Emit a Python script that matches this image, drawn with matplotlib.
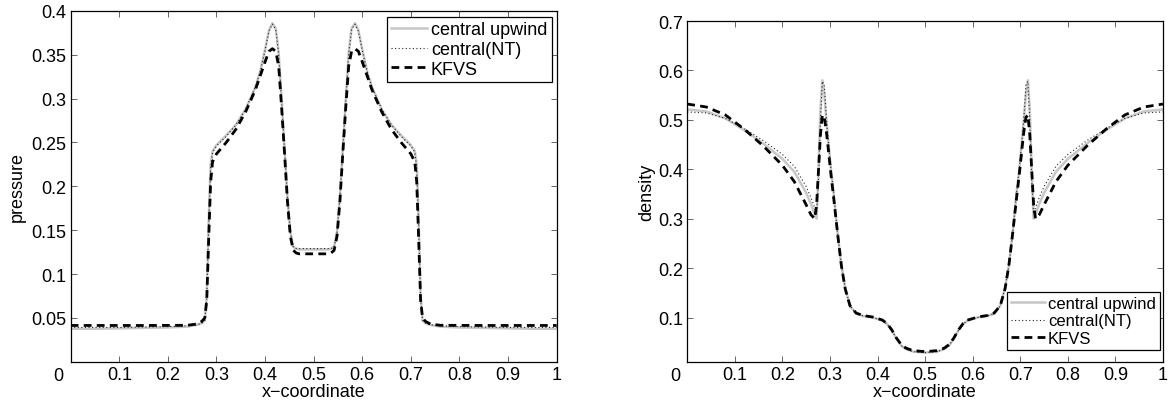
import matplotlib
matplotlib.use("Agg")
import matplotlib.pyplot as plt

plt.rcParams['font.family'] = ['Liberation Sans', 'DejaVu Sans']

# ======================
# Pressure (left panel)
# ======================
x_p = [0, 0.05, 0.1, 0.15, 0.2, 0.24, 0.26, 0.27, 0.276, 0.28, 0.284, 0.288,
       0.292, 0.3, 0.32, 0.34, 0.36, 0.38, 0.39, 0.4, 0.408, 0.415, 0.422,
       0.428, 0.434, 0.44, 0.446, 0.452, 0.458, 0.464, 0.47, 0.5,
       0.53, 0.536, 0.542, 0.548, 0.554, 0.56, 0.566, 0.572, 0.578, 0.585,
       0.592, 0.6, 0.61, 0.62, 0.64, 0.66, 0.68, 0.7, 0.708, 0.712, 0.716,
       0.72, 0.724, 0.73, 0.74, 0.76, 0.8, 0.85, 0.9, 0.95, 1.0]

p_upwind = [0.0375, 0.0375, 0.038, 0.0385, 0.039, 0.040, 0.042, 0.044, 0.047,
            0.075, 0.16, 0.225, 0.240, 0.247, 0.258, 0.270, 0.288, 0.313,
            0.331, 0.356, 0.378, 0.386, 0.380, 0.352, 0.298, 0.243, 0.188,
            0.148, 0.131, 0.129, 0.128, 0.128,
            0.128, 0.129, 0.131, 0.148, 0.188, 0.243, 0.298, 0.352, 0.380,
            0.386, 0.378, 0.356, 0.331, 0.313, 0.288, 0.270, 0.258, 0.247,
            0.240, 0.225, 0.16, 0.075, 0.047, 0.044, 0.042, 0.040, 0.039,
            0.0385, 0.038, 0.0375, 0.0375]

p_nt = [0.039, 0.039, 0.039, 0.0395, 0.040, 0.041, 0.042, 0.044, 0.047,
        0.072, 0.155, 0.222, 0.239, 0.246, 0.257, 0.270, 0.288, 0.313,
        0.331, 0.355, 0.377, 0.385, 0.379, 0.351, 0.297, 0.242, 0.187,
        0.147, 0.131, 0.129, 0.129, 0.129,
        0.129, 0.129, 0.131, 0.147, 0.187, 0.242, 0.297, 0.351, 0.379,
        0.385, 0.377, 0.355, 0.331, 0.313, 0.288, 0.270, 0.257, 0.246,
        0.239, 0.222, 0.155, 0.072, 0.047, 0.044, 0.042, 0.041, 0.040,
        0.0395, 0.039, 0.039, 0.039]

p_kfvs = [0.0413, 0.0413, 0.0413, 0.0413, 0.0414, 0.0415, 0.043, 0.046, 0.05,
          0.07, 0.14, 0.205, 0.228, 0.237, 0.250, 0.265, 0.285, 0.310,
          0.326, 0.342, 0.354, 0.357, 0.354, 0.337, 0.290, 0.238, 0.183,
          0.143, 0.127, 0.124, 0.123, 0.123,
          0.123, 0.124, 0.127, 0.143, 0.183, 0.238, 0.290, 0.337, 0.354,
          0.357, 0.354, 0.342, 0.326, 0.310, 0.285, 0.265, 0.250, 0.237,
          0.228, 0.205, 0.14, 0.07, 0.05, 0.046, 0.043, 0.0415, 0.0414,
          0.0413, 0.0413, 0.0413, 0.0413]

# ======================
# Density (right panel)
# ======================
x_d = [0, 0.04, 0.08, 0.12, 0.16, 0.2, 0.225, 0.25, 0.26, 0.268, 0.272, 0.276,
       0.28, 0.284, 0.288, 0.292, 0.296, 0.302, 0.308, 0.316, 0.324, 0.332,
       0.342, 0.355, 0.37, 0.39, 0.41, 0.42, 0.43, 0.44, 0.45, 0.46, 0.475, 0.5,
       0.525, 0.54, 0.55, 0.56, 0.57, 0.58, 0.59, 0.61, 0.63, 0.645, 0.658,
       0.668, 0.676, 0.684, 0.692, 0.698, 0.704, 0.708, 0.712, 0.716, 0.72,
       0.724, 0.728, 0.732, 0.74, 0.75, 0.775, 0.8, 0.84, 0.88, 0.92, 0.96, 1.0]

d_upwind = [0.521, 0.517, 0.503, 0.479, 0.452, 0.421, 0.395, 0.352, 0.330,
            0.308, 0.300, 0.400, 0.520, 0.580, 0.555, 0.505, 0.462, 0.400,
            0.350, 0.270, 0.205, 0.160, 0.124, 0.108, 0.103, 0.100, 0.094,
            0.087, 0.074, 0.057, 0.043, 0.036, 0.031, 0.029,
            0.031, 0.036, 0.043, 0.057, 0.074, 0.087, 0.094, 0.100, 0.103,
            0.108, 0.124, 0.160, 0.205, 0.270, 0.350, 0.400, 0.462, 0.505,
            0.555, 0.580, 0.520, 0.400, 0.300, 0.308, 0.330, 0.352, 0.395,
            0.421, 0.452, 0.479, 0.503, 0.517, 0.521]

d_nt = [0.516, 0.514, 0.503, 0.482, 0.458, 0.430, 0.406, 0.365, 0.343,
        0.322, 0.310, 0.380, 0.500, 0.578, 0.570, 0.510, 0.462, 0.400,
        0.350, 0.270, 0.205, 0.160, 0.124, 0.108, 0.103, 0.100, 0.094,
        0.087, 0.074, 0.057, 0.043, 0.036, 0.031, 0.029,
        0.031, 0.036, 0.043, 0.057, 0.074, 0.087, 0.094, 0.100, 0.103,
        0.108, 0.124, 0.160, 0.205, 0.270, 0.350, 0.400, 0.462, 0.510,
        0.570, 0.578, 0.500, 0.380, 0.310, 0.322, 0.343, 0.365, 0.406,
        0.430, 0.458, 0.482, 0.503, 0.514, 0.516]

d_kfvs = [0.532, 0.526, 0.510, 0.481, 0.447, 0.408, 0.375, 0.328, 0.308,
          0.300, 0.330, 0.400, 0.470, 0.510, 0.505, 0.480, 0.445, 0.390,
          0.340, 0.270, 0.205, 0.158, 0.124, 0.109, 0.104, 0.101, 0.095,
          0.088, 0.075, 0.058, 0.045, 0.038, 0.033, 0.031,
          0.033, 0.038, 0.045, 0.058, 0.075, 0.088, 0.095, 0.101, 0.104,
          0.109, 0.124, 0.158, 0.205, 0.270, 0.340, 0.390, 0.445, 0.480,
          0.505, 0.510, 0.470, 0.400, 0.330, 0.300, 0.308, 0.328, 0.375,
          0.408, 0.447, 0.481, 0.510, 0.526, 0.532]

labels = ["central upwind", "central(NT)", "KFVS"]
x_ticks = [0, 0.1, 0.2, 0.3, 0.4, 0.5, 0.6, 0.7, 0.8, 0.9, 1]
x_ticklabels = ["", "0.1", "0.2", "0.3", "0.4", "0.5", "0.6", "0.7", "0.8", "0.9", "1"]
p_ticks = [0.05, 0.1, 0.15, 0.2, 0.25, 0.3, 0.35, 0.4]
p_ticklabels = ["0.05", "0.1", "0.15", "0.2", "0.25", "0.3", "0.35", "0.4"]
d_ticks = [0.1, 0.2, 0.3, 0.4, 0.5, 0.6, 0.7]
d_ticklabels = ["0.1", "0.2", "0.3", "0.4", "0.5", "0.6", "0.7"]

FS = 13

# ======================
# Figure
# ======================
fig = plt.figure(figsize=(11.7, 4.06), dpi=100)
ax_p = fig.add_axes([0.0604, 0.1067, 0.4154, 0.8638])
ax_d = fig.add_axes([0.5874, 0.1059, 0.4066, 0.8399])


def draw(ax, x, y_up, y_nt, y_kf, ylim, yticks, yticklabels, ylabel, ylabelpad):
    ax.plot(x, y_up, color="0.78", lw=1.8, ls="-", label=labels[0])
    ax.plot(x, y_nt, color="0.15", lw=0.8, ls=(0, (1, 2.2)), label=labels[1])
    ax.plot(x, y_kf, color="black", lw=2.0, ls=(0, (2.8, 1.9)), label=labels[2])
    ax.set_xlim(0, 1)
    ax.set_ylim(*ylim)
    ax.set_xticks(x_ticks)
    ax.set_xticklabels(x_ticklabels)
    ax.set_yticks(yticks)
    ax.set_yticklabels(yticklabels)
    ax.tick_params(direction="in", top=True, right=True, length=4, width=0.6,
                   labelsize=FS, pad=3, color="0.3")
    for s in ax.spines.values():
        s.set_linewidth(0.9)
    ax.set_xlabel("x\u2212coordinate", fontsize=FS, labelpad=0)
    ax.set_ylabel(ylabel, fontsize=FS, labelpad=ylabelpad)
    # the "0" at the corner sits a little left of the axis origin
    ax.annotate("0", xy=(0, 0), xycoords="axes fraction", xytext=(-12, -5),
                textcoords="offset pixels", ha="center", va="top", fontsize=FS)


draw(ax_p, x_p, p_upwind, p_nt, p_kfvs, (0, 0.4), p_ticks, p_ticklabels, "pressure", 4)
draw(ax_d, x_d, d_upwind, d_nt, d_kfvs, (0.01, 0.7), d_ticks, d_ticklabels, "density", 2)

leg_kw = dict(fancybox=False, framealpha=1, edgecolor="black",
              handlelength=2.0, handletextpad=0.2, labelspacing=0.15,
              borderpad=0.25, borderaxespad=0)
lp = ax_p.legend(loc="upper right", bbox_to_anchor=(0.9897, 0.9837),
                 fontsize=FS, **leg_kw)
ld = ax_d.legend(loc="lower right", bbox_to_anchor=(0.9937, 0.035),
                 fontsize=12, **leg_kw)
for lg in (lp, ld):
    lg.get_frame().set_linewidth(0.9)

fig.savefig("out.png", dpi=100)
